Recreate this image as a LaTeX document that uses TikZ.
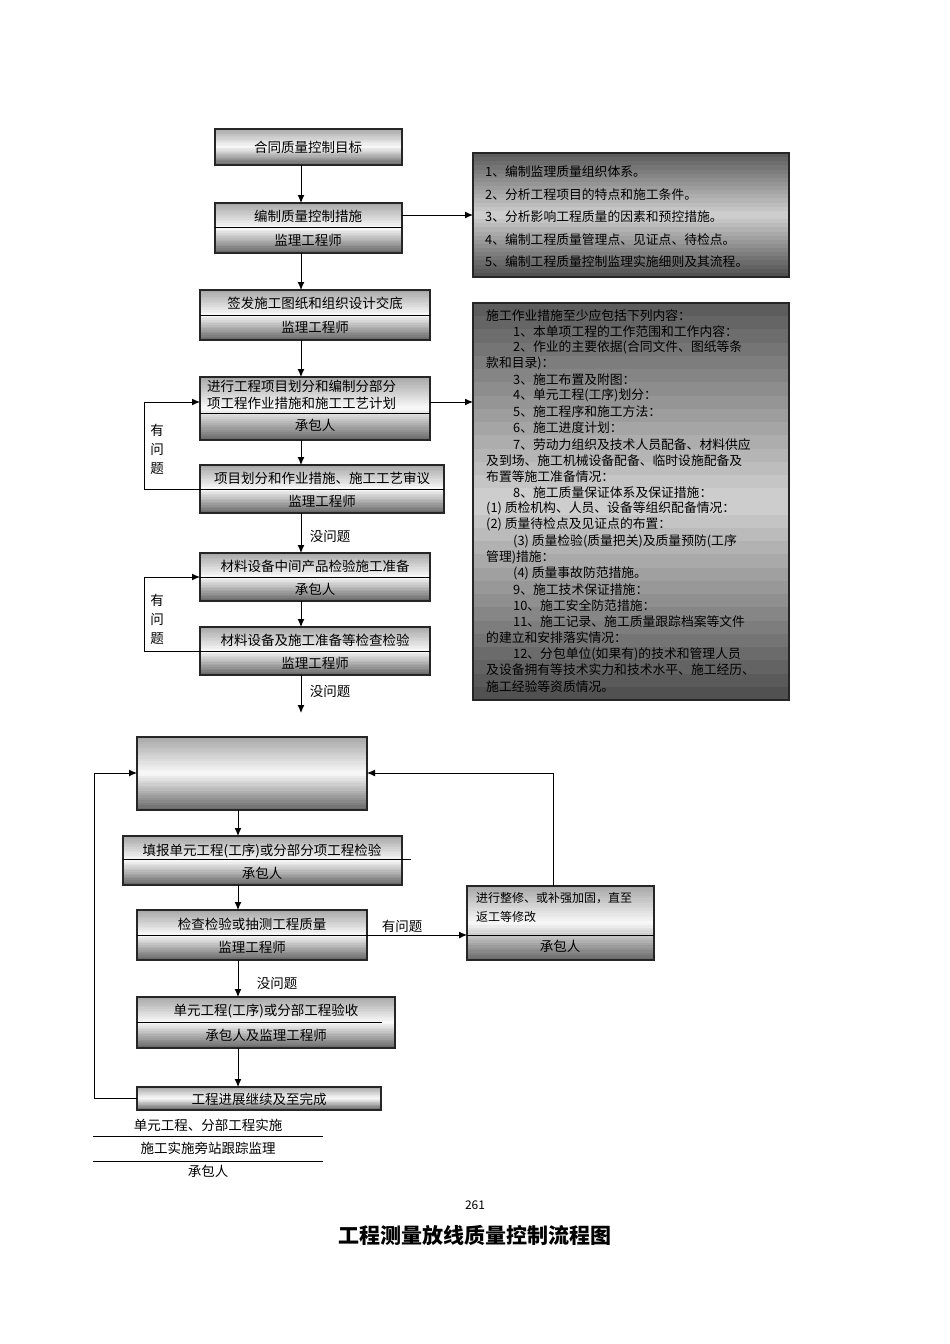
\documentclass[tikz,border=0pt]{standalone}
\usepackage{fontspec}
\setmainfont{Noto Sans CJK SC}
\usetikzlibrary{arrows.meta}
% #1 x1, #2 y1, #3 x2, #4 y2, #5 top gray, #6 middle gray, #7 bottom gray
\newcommand\gradbox[7]{%
  \foreach \i in {0,...,29}{%
    \pgfmathsetmacro\tt{(\i+0.5)/30}%
    \pgfmathsetmacro\pp{\tt<0.5 ? #5+(#6-#5)*\tt*2 : #6+(#7-#6)*(\tt-0.5)*2}%
    \pgfmathsetmacro\ya{#2+(#4-#2)*\i/30}%
    \pgfmathsetmacro\yb{#2+(#4-#2)*(\i+1)/30+0.3}%
    \fill[black!\pp] (#1,\ya) rectangle (#3,\yb);}%
  \draw[black!85,line width=1.3pt] (#1,#2) rectangle (#3,#4);}
\newcommand\lbox[4]{\gradbox{#1}{#2}{#3}{#4}{35}{2}{60}}
\newcommand\dbox[4]{\gradbox{#1}{#2}{#3}{#4}{65}{18}{70}}
\begin{document}
\begin{tikzpicture}[x=1pt,y=-1pt,
  txt/.style={font=\fontsize{13.5}{13.5}\selectfont,inner sep=0},
  rtxt/.style={font=\fontsize{12.8}{12.8}\selectfont,inner sep=0},
  arr/.style={-{Latex[length=8pt,width=7pt]},line width=1pt},
  ln/.style={line width=0.8pt}]
\useasboundingbox (0,0) rectangle (950,1344);
% upper part
\lbox{215}{129}{402}{165} \node[txt] (b1) at (308,147) {合同质量控制目标};
\coordinate (b1s) at (301,165);
\lbox{215}{203}{402}{253} \draw[ln] (215,227)--(402,227);
\node[txt] (b2a) at (308,216) {编制质量控制措施}; \node[txt] (b2b) at (308,240) {监理工程师};
\coordinate (b2n) at (301,203); \coordinate (b2s) at (301,253); \coordinate (b2e) at (402,215);
\dbox{473}{153}{789}{277} \coordinate (r1w) at (473,215);
\foreach \t [count=\i] in {1、编制监理质量组织体系。,2、分析工程项目的特点和施工条件。,3、分析影响工程质量的因素和预控措施。,4、编制工程质量管理点、见证点、待检点。,5、编制工程质量控制监理实施细则及其流程。}
  \node[rtxt,anchor=west] (r1\i) at (485,149+22.6*\i) {\t};
\lbox{200}{290}{430}{340} \draw[ln] (200,315)--(430,315);
\node[txt] (b3a) at (315,303) {签发施工图纸和组织设计交底}; \node[txt] (b3b) at (315,327) {监理工程师};
\coordinate (b3n) at (301,290); \coordinate (b3s) at (301,340);
\lbox{200}{377}{430}{440} \draw[ln] (200,413)--(430,413);
\node[txt,anchor=west,align=left,font=\fontsize{13.5}{16.5}\selectfont] (b4a) at (207,395) {进行工程项目划分和编制分部分\\项工程作业措施和施工工艺计划};
\node[txt] (b4b) at (315,425) {承包人};
\coordinate (b4n) at (301,377); \coordinate (b4s) at (301,440); \coordinate (b4e) at (430,402); \coordinate (b4w) at (200,402);
\dbox{473}{303}{789}{700} \coordinate (r2w) at (473,402);
\foreach \t/\ind [count=\i] in {施工作业措施至少应包括下列内容：/0,1、本单项工程的工作范围和工作内容：/1,2、作业的主要依据(合同文件、图纸等条/1,款和目录)：/0,3、施工布置及附图：/1,4、单元工程(工序)划分：/1,5、施工程序和施工方法：/1,6、施工进度计划：/1,7、劳动力组织及技术人员配备、材料供应/1,及到场、施工机械设备配备、临时设施配备及/0,布置等施工准备情况：/0,8、施工质量保证体系及保证措施：/1,(1) 质检机构、人员、设备等组织配备情况：/0,(2) 质量待检点及见证点的布置：/0,(3) 质量检验(质量把关)及质量预防(工序/1,管理)措施：/0,(4) 质量事故防范措施。/1,9、施工技术保证措施：/1,10、施工安全防范措施：/1,11、施工记录、施工质量跟踪档案等文件/1,的建立和安排落实情况：/0,12、分包单位(如果有)的技术和管理人员/1,及设备拥有等技术实力和技术水平、施工经历、/0,施工经验等资质情况。/0}
  \node[rtxt,anchor=west] (r2\i) at (486+27*\ind,299+16.13*\i) {\t};
\lbox{200}{465}{444}{513} \draw[ln] (144,489)--(444,489);
\node[txt] (b5a) at (322,478) {项目划分和作业措施、施工工艺审议}; \node[txt] (b5b) at (322,501) {监理工程师};
\coordinate (b5n) at (301,465); \coordinate (b5s) at (301,513); \coordinate (l1) at (144,489);
\node[txt,align=center,font=\fontsize{13.5}{19}\selectfont] (q1) at (157,449) {有\\问\\题};
\node[txt] (n1) at (330,536) {没问题};
\lbox{200}{553}{430}{601} \draw[ln] (200,577)--(430,577);
\node[txt] (b6a) at (315,566) {材料设备中间产品检验施工准备}; \node[txt] (b6b) at (315,589) {承包人};
\coordinate (b6n) at (301,553); \coordinate (b6s) at (301,601); \coordinate (b6w) at (200,577);
\lbox{200}{627}{430}{675} \draw[ln] (144,651)--(430,651);
\node[txt] (b7a) at (315,640) {材料设备及施工准备等检查检验}; \node[txt] (b7b) at (315,663) {监理工程师};
\coordinate (b7n) at (301,627); \coordinate (b7s) at (301,675); \coordinate (l2) at (144,651);
\node[txt,align=center,font=\fontsize{13.5}{19}\selectfont] (q2) at (157,619) {有\\问\\题};
\node[txt] (n2) at (330,691) {没问题}; \coordinate (e7) at (301,713);
% lower part
\lbox{137}{737}{367}{810} \coordinate (b8w) at (137,773); \coordinate (b8e) at (367,773); \coordinate (b8s) at (238,810);
\lbox{123}{836}{402}{885} \draw[ln] (123,859)--(411,859);
\node[txt] (b9a) at (262,851) {填报单元工程(工序)或分部分项工程检验}; \node[txt] (b9b) at (262,873) {承包人};
\coordinate (b9n) at (238,836); \coordinate (b9s) at (238,885);
\lbox{137}{910}{367}{960} \draw[ln] (137,935)--(367,935);
\node[txt] (b10a) at (252,924) {检查检验或抽测工程质量}; \node[txt] (b10b) at (252,947) {监理工程师};
\coordinate (b10n) at (238,910); \coordinate (b10s) at (238,960); \coordinate (b10e) at (367,935);
\node[txt] (q3) at (402,926) {有问题};
\lbox{467}{886}{654}{960} \draw[ln] (467,935)--(654,935);
\node[txt,anchor=west,font=\fontsize{12}{12}\selectfont] (b11a) at (476,898) {进行整修、或补强加固，直至};
\node[txt,anchor=west,font=\fontsize{12}{12}\selectfont] (b11b) at (476,917) {返工等修改};
\node[txt] (b11c) at (560,946) {承包人};
\coordinate (b11w) at (467,935); \coordinate (b11n) at (553,886);
\node[txt] (n3) at (277,983) {没问题};
\lbox{137}{997}{395}{1048} \draw[ln] (137,1022)--(382,1022);
\node[txt] (b12a) at (266,1011) {单元工程(工序)或分部工程验收}; \node[txt] (b12b) at (266,1035) {承包人及监理工程师};
\coordinate (b12n) at (238,997); \coordinate (b12s) at (238,1048);
\lbox{137}{1087}{381}{1110}
\node[txt] (b13) at (259,1099) {工程进展继续及至完成};
\coordinate (b13n) at (238,1087); \coordinate (b13w) at (137,1098);
\node[txt] (t1) at (208,1125) {单元工程、分部工程实施};
\draw[ln] (93,1136)--(323,1136);
\node[txt] (t2) at (208,1148) {施工实施旁站跟踪监理};
\draw[ln] (93,1161)--(323,1161);
\node[txt] (t3) at (208,1171) {承包人};
\node[font=\fontsize{12}{12}\selectfont] (pg) at (475,1205) {261};
\node[font=\fontsize{21}{21}\selectfont\bfseries] (title) at (475,1235) {工程测量放线质量控制流程图};
% arrows
\draw[arr] (b1s)--(b2n); \draw[arr] (b2e)--(r1w); \draw[arr] (b2s)--(b3n);
\draw[arr] (b3s)--(b4n); \draw[arr] (b4e)--(r2w); \draw[arr] (b4s)--(b5n);
\draw[arr] (l1)--(144,402)--(b4w);
\draw[arr] (b5s)--(b6n); \draw[arr] (b6s)--(b7n);
\draw[arr] (l2)--(144,577)--(b6w);
\draw[arr] (b7s)--(e7);
\draw[arr] (b8s)--(b9n); \draw[arr] (b9s)--(b10n); \draw[arr] (b10e)--(b11w);
\draw[arr] (b10s)--(b12n); \draw[arr] (b12s)--(b13n);
\draw[arr] (b11n)--(553,773)--(b8e);
\draw[arr] (b13w)--(94,1098)--(94,773)--(b8w);
\end{tikzpicture}
\end{document}
